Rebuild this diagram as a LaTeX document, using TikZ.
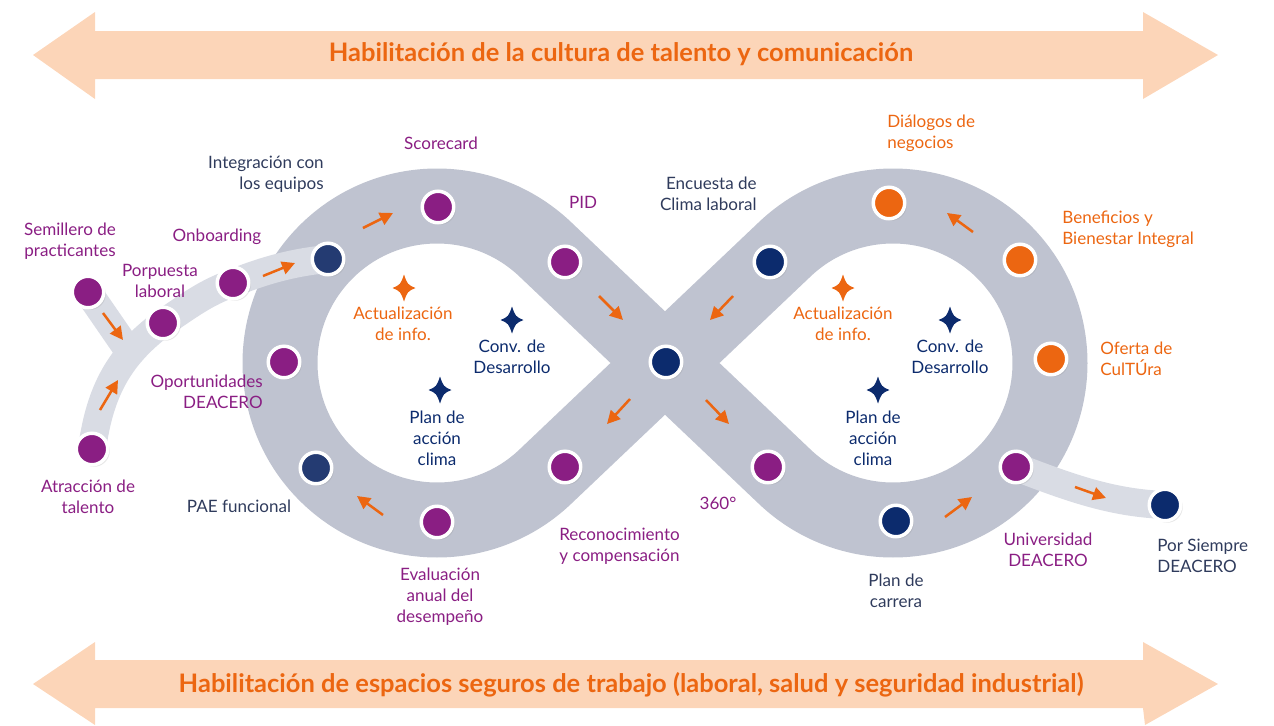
\documentclass[tikz,border=0pt]{standalone}
\usepackage{fontspec}
\setmainfont{Lato}
\usetikzlibrary{arrows.meta, calc, backgrounds, shadows}
\definecolor{peach}{HTML}{FCD5B8}
\definecolor{naranja}{HTML}{EC6611}
\definecolor{banda}{HTML}{BFC3D0}
\definecolor{rampa}{HTML}{D9DCE4}
\definecolor{morado}{HTML}{8A1E83}
\definecolor{marino}{HTML}{243B72}
\definecolor{azul}{HTML}{0C2B6D}
\definecolor{pizarra}{HTML}{2F3B5C}
\begin{document}
\begin{tikzpicture}[x=0.2mm,y=-0.2mm,font=\fontsize{9.7}{12}\selectfont,stage/.style={circle,draw=white,line width=0.7mm,inner sep=0pt,minimum size=6.3mm,drop shadow={shadow xshift=0.4mm,shadow yshift=-0.4mm,opacity=0.2}},lbl/.style={align=center,inner sep=0pt},banner/.style={fill=peach},title/.style={font=\fontsize{14.5}{17}\selectfont\bfseries,text=naranja},flow/.style={naranja,line width=0.5mm,-{Triangle[length=2.6mm,width=2.6mm]}},ramp/.style={rampa,line width=5.6mm},loop/.style={banda,line width=15mm},pics/spark/.style={code={\fill[#1] (0,-13.5) .. controls (3.5,-3.5) .. (11.5,0) .. controls (3.5,3.5) .. (0,13.5) .. controls (-3.5,3.5) .. (-11.5,0) .. controls (-3.5,-3.5) .. (0,-13.5) -- cycle;}}]
\useasboundingbox (0,0) rectangle (1274,725);
\fill[banner] (33,55) -- (95,12) -- (95,31) -- (1143,31) -- (1143,12) -- (1218,55) -- (1143,99) -- (1143,79) -- (95,79) -- (95,99) -- cycle;
\fill[banner] (33,684) -- (95,642) -- (95,660) -- (1143,660) -- (1143,642) -- (1218,684) -- (1145,725) -- (1143,708) -- (95,708) -- (95,725) -- cycle;
\node[title] (cultura) at (621,54) {Habilitación de la cultura de talento y comunicación};
\node[title] (espacios) at (631,685) {Habilitación de espacios seguros de trabajo (laboral, salud y seguridad industrial)};
\coordinate (izq) at (437,363);
\coordinate (der) at (893,363);
\coordinate (junta) at (128,350);
\node[stage,fill=morado] (atraccion) at (92,449) {};
\node[stage,fill=morado] (semillero) at (88,292) {};
\node[stage,fill=morado] (porpuesta) at (163,323) {};
\node[stage,fill=morado] (onboarding) at (233,283) {};
\node[stage,fill=marino] (integracion) at (328,259) {};
\node[stage,fill=morado] (oportunidades) at (284,362) {};
\node[stage,fill=marino] (pae) at (316,468) {};
\node[stage,fill=morado] (evaluacion) at (437,522) {};
\node[stage,fill=morado] (reconocimiento) at (565,467) {};
\node[stage,fill=morado] (scorecard) at (438,207) {};
\node[stage,fill=morado] (pid) at (565,262) {};
\node[stage,fill=azul] (centro) at (666,362) {};
\node[stage,fill=azul] (encuesta) at (770,262) {};
\node[stage,fill=morado] (tres) at (768,467) {};
\node[stage,fill=azul] (carrera) at (896,521) {};
\node[stage,fill=morado] (universidad) at (1016,467) {};
\node[stage,fill=azul] (siempre) at (1165,505) {};
\node[stage,fill=naranja] (dialogos) at (889,203) {};
\node[stage,fill=naranja] (beneficios) at (1020,260) {};
\node[stage,fill=naranja] (oferta) at (1051,359) {};
\begin{scope}[on background layer]
\draw[loop] ($(izq)+(46.5:31.4mm)$) arc[start angle=46.5,end angle=313.5,radius=31.4mm] -- ($(der)+(133.5:31.4mm)$) arc[start angle=133.5,end angle=-133.5,radius=31.4mm] -- cycle;
\draw[ramp] (atraccion.center) .. controls (100,390) and (120,355) .. (porpuesta.center) .. controls (190,305) and (205,293) .. (onboarding.center) .. controls (265,270) and (295,262) .. (integracion.center);
\draw[ramp] (semillero.center) -- (junta);
\draw[ramp] (universidad.center) .. controls (1075,490) and (1115,503) .. (siempre.center);
\end{scope}
\pic at (404,288) {spark=naranja};
\pic at (512,320) {spark=azul};
\pic at (440,390) {spark=azul};
\pic at (843,288) {spark=naranja};
\pic at (950,320) {spark=azul};
\pic at (878,390) {spark=azul};
\node[lbl,text=morado] (lsemillero) at (70,241) {Semillero de\\practicantes};
\node[lbl,text=morado] (lporpuesta) at (160,281) {Porpuesta\\laboral};
\node[lbl,text=morado] (lonboarding) at (217,237) {Onboarding};
\node[lbl,text=pizarra,anchor=east,align=right] (lintegracion) at (324,174) {Integración con\\los equipos};
\node[lbl,text=morado] (latraccion) at (88,497) {Atracción de\\talento};
\node[lbl,text=morado,anchor=east,align=right] (loportunidades) at (263,392) {Oportunidades\\DEACERO};
\node[lbl,text=pizarra] (lpae) at (239,506) {PAE funcional};
\node[lbl,text=morado] (lscorecard) at (441,143) {Scorecard};
\node[lbl,text=morado] (lpid) at (583,202) {PID};
\node[lbl,text=pizarra,anchor=east,align=right] (lencuesta) at (757,194) {Encuesta de\\Clima laboral};
\node[lbl,text=naranja,anchor=west,align=left] (ldialogos) at (887,133) {Diálogos de\\negocios};
\node[lbl,text=naranja,anchor=west,align=left] (lbeneficios) at (1062,229) {Beneficios y\\Bienestar Integral};
\node[lbl,text=naranja,anchor=west,align=left] (loferta) at (1100,359) {Oferta de\\CulTÚra};
\node[lbl,text=naranja] (lactual) at (403,324) {Actualización\\de info.};
\node[lbl,text=azul] (lconv) at (512,357) {Conv. de\\Desarrollo};
\node[lbl,text=azul] (lplan) at (437,438) {Plan de\\acción\\clima};
\node[lbl,text=naranja] (lactualb) at (843,324) {Actualización\\de info.};
\node[lbl,text=azul] (lconvb) at (950,357) {Conv. de\\Desarrollo};
\node[lbl,text=azul] (lplanb) at (873,438) {Plan de\\acción\\clima};
\node[lbl,text=morado,anchor=west,align=left] (lreconocimiento) at (559,546) {Reconocimiento\\y compensación};
\node[lbl,text=morado] (levaluacion) at (440,597) {Evaluación\\anual del\\desempeño};
\node[lbl,text=morado] (ltres) at (718,503) {360°};
\node[lbl,text=pizarra] (lcarrera) at (896,591) {Plan de\\carrera};
\node[lbl,text=morado] (luniversidad) at (1048,550) {Universidad\\DEACERO};
\node[lbl,text=pizarra,anchor=west,align=left] (lsiempre) at (1157,556) {Por Siempre\\DEACERO};
\foreach \a/\b in {{100,410}/{118,380},{103,313}/{123,340},{263,276}/{295,263},{363,228}/{393,213},{599,296}/{623,320},{733,296}/{710,320},{630,399}/{607,424},{706,400}/{729,424},{383,515}/{357,496},{945,517}/{972,497},{973,232}/{947,213},{1075,487}/{1106,498}} \draw[flow] (\a) -- (\b);
\end{tikzpicture}
\end{document}
